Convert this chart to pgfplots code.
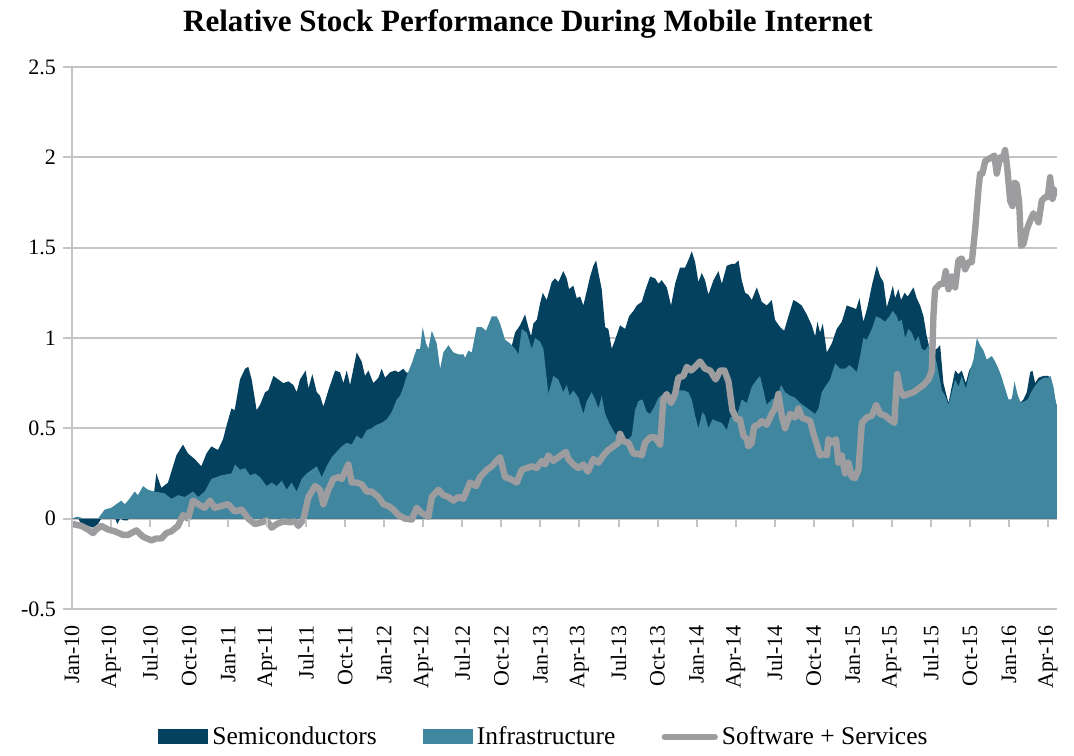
\documentclass[border=0pt]{standalone}
\usepackage{fontspec}
\setmainfont{Liberation Serif}
\usepackage{pgfplots}
\usepackage{pgfplotstable}
\pgfplotsset{compat=1.18}
\definecolor{semis}{HTML}{03415F}
\definecolor{infra}{HTML}{41869F}
\definecolor{soft}{HTML}{9D9D9F}
\definecolor{gridgray}{HTML}{C4C4C4}

% months since Jan-2010, relative performance
\pgfplotstableread{
m v
0 0
0.4 0.01
0.72 -0.03
1.23 -0.04
1.61 -0.05
2.0 -0.03
2.25 0.0
2.6 0.02
3.2 0.02
3.49 -0.03
3.7 0.0
4.0 -0.01
4.3 -0.01
4.6 0.05
5.0 0.08
5.5 0.10
6.0 0.12
6.3 0.14
6.48 0.25
6.87 0.17
7.38 0.20
8.02 0.35
8.53 0.41
8.92 0.36
9.43 0.33
9.94 0.29
10.33 0.36
10.71 0.40
11.22 0.38
11.61 0.44
11.86 0.51
12.25 0.61
12.5 0.60
12.91 0.77
13.30 0.83
13.55 0.84
13.81 0.77
14.19 0.60
14.45 0.63
14.84 0.70
15.09 0.71
15.48 0.79
15.86 0.77
16.24 0.75
16.63 0.76
17.01 0.74
17.27 0.70
17.52 0.77
17.96 0.82
18.17 0.72
18.47 0.80
18.81 0.70
19.06 0.68
19.32 0.62
19.70 0.71
20.22 0.82
20.6 0.81
20.86 0.75
21.11 0.82
21.37 0.74
21.88 0.92
22.26 0.87
22.52 0.79
22.78 0.82
23.16 0.75
23.55 0.78
23.80 0.83
24.06 0.78
24.44 0.81
24.83 0.82
25.08 0.81
25.47 0.83
25.67 0.81
26.5 0.80
28.0 0.82
29.5 0.80
31.0 0.85
32.5 0.88
33.6 0.90
34.05 1.03
34.43 1.07
34.82 1.13
35.07 1.06
35.28 1.01
35.46 1.08
35.72 1.10
35.97 1.19
36.18 1.25
36.48 1.21
36.87 1.31
37.12 1.33
37.38 1.31
37.76 1.37
38.02 1.33
38.2 1.27
38.53 1.29
38.79 1.22
39.05 1.23
39.30 1.18
39.56 1.26
39.82 1.34
40.07 1.40
40.28 1.43
40.46 1.36
40.71 1.27
40.97 1.06
41.22 1.05
41.48 0.94
41.74 0.99
42.12 1.07
42.51 1.05
42.81 1.12
43.15 1.15
43.40 1.18
43.79 1.20
44.04 1.26
44.43 1.34
44.81 1.33
45.07 1.30
45.32 1.32
45.71 1.28
46.04 1.18
46.35 1.30
46.73 1.39
47.12 1.39
47.42 1.44
47.63 1.48
47.89 1.42
48.14 1.31
48.40 1.36
48.65 1.32
48.91 1.24
49.30 1.32
49.68 1.37
49.94 1.30
50.32 1.40
50.70 1.41
50.96 1.41
51.22 1.43
51.47 1.32
51.73 1.25
51.98 1.24
52.24 1.21
52.63 1.28
53.01 1.20
53.39 1.18
53.78 1.21
54.03 1.10
54.42 1.06
54.73 1.04
55.06 1.12
55.44 1.21
55.70 1.20
56.08 1.18
56.47 1.13
56.85 1.07
57.11 1.01
57.29 1.09
57.49 1.03
57.70 1.08
58.01 0.92
58.39 0.97
58.77 1.05
59.16 1.09
59.54 1.18
59.93 1.17
60.26 1.16
60.52 1.22
60.82 1.09
61.13 1.17
61.47 1.29
61.85 1.40
62.11 1.34
62.36 1.31
62.62 1.17
62.87 1.23
63.08 1.29
63.26 1.22
63.51 1.27
63.72 1.21
63.98 1.25
64.23 1.23
64.41 1.25
64.67 1.28
64.92 1.22
65.18 1.18
65.44 1.12
65.69 1.01
65.95 0.93
66.21 0.93
66.46 0.94
66.72 0.96
66.97 0.75
67.36 0.64
67.61 0.73
67.87 0.82
68.13 0.80
68.38 0.82
68.69 0.75
68.95 0.82
69.28 0.86
69.6 0.90
70.5 0.82
71.5 0.70
72.0 0.62
72.48 0.72
72.87 0.64
73.12 0.66
73.38 0.70
73.64 0.81
73.81 0.82
74.02 0.75
74.28 0.78
74.66 0.79
75.04 0.79
75.30 0.75
75.56 0.66
75.68 0.62
}\semis

\pgfplotstableread{
m v
0 0
0.46 0.01
1.0 0.0
2.0 0.0
2.51 0.05
3.02 0.06
3.79 0.10
4.05 0.08
4.31 0.10
4.82 0.15
5.07 0.13
5.46 0.18
5.84 0.16
6.35 0.15
7.12 0.14
7.64 0.11
8.15 0.13
8.66 0.12
9.30 0.15
9.69 0.12
10.2 0.15
10.71 0.22
11.48 0.24
12.25 0.25
12.53 0.30
12.91 0.27
13.30 0.28
13.68 0.24
14.07 0.25
14.45 0.23
14.96 0.18
15.35 0.20
15.73 0.18
16.12 0.21
16.50 0.16
16.88 0.20
17.27 0.15
17.65 0.22
18.04 0.25
18.42 0.27
18.81 0.29
19.19 0.23
19.57 0.29
19.96 0.34
20.34 0.37
20.73 0.40
21.11 0.42
21.5 0.41
21.88 0.46
22.26 0.44
22.65 0.49
23.03 0.50
23.42 0.52
23.80 0.53
24.19 0.55
24.57 0.59
24.96 0.66
25.21 0.68
25.47 0.73
25.72 0.79
26.11 0.86
26.49 0.94
26.75 0.94
26.95 1.06
27.21 0.97
27.39 0.94
27.65 1.04
28.03 0.97
28.29 0.83
28.54 0.92
28.93 0.96
29.31 0.92
29.69 0.91
30.08 0.91
30.21 0.89
30.46 0.93
30.72 0.92
31.10 1.06
31.49 1.06
31.82 1.04
32.26 1.12
32.64 1.12
32.90 1.08
33.28 0.99
33.67 0.97
34.05 0.94
34.31 0.91
34.56 1.05
34.95 1.03
35.33 0.94
35.59 1.00
35.97 0.98
36.23 0.94
36.43 0.81
36.61 0.69
36.99 0.79
37.38 0.77
37.76 0.70
38.02 0.74
38.25 0.68
38.53 0.71
38.92 0.67
39.30 0.58
39.56 0.65
39.94 0.70
40.2 0.66
40.46 0.61
40.71 0.68
40.97 0.58
41.35 0.52
41.74 0.47
41.99 0.46
42.38 0.42
42.76 0.44
43.02 0.46
43.27 0.60
43.53 0.65
43.84 0.66
44.17 0.59
44.43 0.58
44.76 0.62
45.07 0.67
45.45 0.69
45.84 0.68
46.22 0.69
46.60 0.71
46.99 0.71
47.37 0.70
47.63 0.66
47.89 0.57
48.14 0.50
48.45 0.59
48.65 0.57
48.91 0.50
49.22 0.55
49.55 0.54
49.94 0.53
50.32 0.49
50.58 0.56
51.09 0.57
51.47 0.66
51.86 0.64
52.24 0.73
52.63 0.77
52.88 0.79
53.14 0.71
53.39 0.63
53.78 0.66
54.16 0.67
54.50 0.74
54.80 0.70
55.19 0.68
55.57 0.67
55.96 0.64
56.34 0.62
56.73 0.60
57.11 0.58
57.37 0.61
57.62 0.70
57.88 0.73
58.26 0.77
58.65 0.86
59.03 0.83
59.42 0.83
59.75 0.85
60.06 0.83
60.31 0.81
60.57 0.90
60.82 1.00
61.08 0.99
61.47 1.05
61.80 1.12
62.11 1.11
62.49 1.09
62.82 1.12
63.08 1.15
63.39 1.12
63.52 1.09
63.77 1.10
64.03 1.00
64.28 1.05
64.54 1.03
64.80 0.98
65.05 1.01
65.31 0.94
65.56 0.93
65.82 0.96
66.20 0.92
66.46 0.86
66.85 0.71
67.10 0.68
67.36 0.63
67.61 0.70
67.87 0.77
68.13 0.73
68.38 0.79
68.69 0.72
69.02 0.82
69.28 0.88
69.54 1.00
69.79 0.96
70.05 0.93
70.30 0.88
70.69 0.90
70.94 0.87
71.20 0.83
71.46 0.78
71.71 0.72
71.97 0.66
72.23 0.66
72.43 0.76
72.69 0.68
72.94 0.64
73.20 0.65
73.46 0.66
73.71 0.70
73.97 0.73
74.28 0.76
74.66 0.78
74.99 0.78
75.20 0.79
75.43 0.73
75.61 0.64
75.69 0.63
}\infra

\pgfplotstableread{
m v
0 -0.02
0.08 -0.03
0.72 -0.04
1.23 -0.06
1.61 -0.08
1.87 -0.06
2.25 -0.04
2.77 -0.06
3.28 -0.07
3.92 -0.09
4.31 -0.09
4.95 -0.065
5.46 -0.10
6.10 -0.12
6.48 -0.11
6.87 -0.11
7.25 -0.08
7.64 -0.07
8.15 -0.04
8.53 0.02
8.92 0.0
9.30 0.10
9.69 0.08
10.2 0.06
10.6 0.10
10.97 0.06
11.48 0.07
12.0 0.08
12.5 0.04
13.04 0.05
13.55 0.00
14.07 -0.03
14.58 -0.02
14.96 -0.01
15.35 -0.05
15.73 -0.03
16.24 -0.015
16.76 -0.02
17.14 -0.015
17.4 -0.04
17.78 -0.005
18.17 0.12
18.68 0.18
19.06 0.16
19.32 0.08
19.70 0.16
20.09 0.22
20.47 0.23
20.73 0.22
21.24 0.30
21.5 0.20
21.88 0.20
22.26 0.19
22.65 0.15
23.03 0.15
23.55 0.12
23.93 0.08
24.31 0.07
24.70 0.05
25.08 0.02
25.6 0.00
26.11 -0.005
26.49 0.06
26.88 0.03
27.39 0.01
27.65 0.12
28.16 0.16
28.54 0.13
28.93 0.12
29.31 0.10
29.69 0.12
30.08 0.11
30.59 0.20
31.05 0.18
31.36 0.23
31.87 0.27
32.26 0.29
32.51 0.31
32.90 0.34
33.28 0.23
33.67 0.22
34.18 0.20
34.56 0.27
34.95 0.28
35.33 0.29
35.72 0.28
36.10 0.32
36.36 0.30
36.61 0.35
36.99 0.32
37.38 0.34
37.76 0.36
37.95 0.37
38.15 0.33
38.53 0.30
38.92 0.28
39.30 0.30
39.64 0.26
40.07 0.33
40.46 0.31
40.84 0.35
41.22 0.38
41.61 0.40
41.99 0.42
42.12 0.47
42.38 0.43
42.76 0.42
43.15 0.36
43.48 0.36
43.79 0.35
44.04 0.42
44.43 0.45
44.81 0.45
45.2 0.41
45.45 0.66
45.71 0.69
46.04 0.64
46.35 0.69
46.60 0.78
46.99 0.79
47.25 0.84
47.58 0.82
47.89 0.84
48.27 0.87
48.65 0.83
49.04 0.82
49.47 0.77
49.81 0.82
50.14 0.82
50.45 0.76
50.75 0.60
51.09 0.55
51.34 0.55
51.60 0.46
51.86 0.44
51.98 0.40
52.24 0.42
52.42 0.51
52.75 0.52
53.01 0.54
53.39 0.52
53.78 0.58
54.03 0.61
54.29 0.69
54.55 0.57
54.80 0.50
55.19 0.58
55.57 0.56
55.83 0.61
56.08 0.56
56.42 0.55
56.73 0.54
56.98 0.47
57.29 0.40
57.49 0.35
57.75 0.36
58.01 0.35
58.13 0.44
58.39 0.42
58.72 0.44
58.90 0.31
59.16 0.35
59.41 0.25
59.67 0.31
59.93 0.23
60.18 0.225
60.44 0.27
60.70 0.53
61.08 0.56
61.47 0.57
61.80 0.63
62.11 0.58
62.49 0.57
62.82 0.55
63.20 0.53
63.42 0.80
63.64 0.71
63.90 0.68
64.28 0.69
64.67 0.70
65.05 0.72
65.44 0.74
65.82 0.77
66.08 0.82
66.20 1.12
66.33 1.27
66.72 1.30
66.97 1.30
67.15 1.37
67.36 1.27
67.61 1.34
67.87 1.28
68.13 1.43
68.38 1.44
68.64 1.38
68.90 1.42
69.15 1.42
69.41 1.60
69.66 1.82
69.79 1.91
69.97 1.91
70.18 1.98
70.43 1.99
70.69 2.00
70.89 2.01
71.07 1.91
71.33 2.00
71.51 1.99
71.71 2.04
71.89 1.93
72.10 1.76
72.28 1.73
72.43 1.86
72.61 1.85
72.79 1.75
72.94 1.51
73.12 1.52
73.38 1.60
73.64 1.65
73.89 1.69
74.07 1.67
74.28 1.64
74.53 1.76
74.79 1.78
74.99 1.78
75.17 1.89
75.35 1.77
75.56 1.82
75.68 1.83
}\soft

\begin{document}
\begin{tikzpicture}
\begin{axis}[
    width=492.5pt, height=271pt, scale only axis,
    xmin=0, xmax=75.7,
    ymin=-0.5, ymax=2.5,
    axis x line*=bottom,
    axis y line*=left,
    x axis line style={draw=none},
    y axis line style={gridgray, line width=1pt},
    tick align=outside,
    major tick length=4.5pt,
    xtick={0,3,...,75},
    xticklabels={Jan-10,Apr-10,Jul-10,Oct-10,Jan-11,Apr-11,Jul-11,Oct-11,Jan-12,Apr-12,Jul-12,Oct-12,Jan-13,Apr-13,Jul-13,Oct-13,Jan-14,Apr-14,Jul-14,Oct-14,Jan-15,Apr-15,Jul-15,Oct-15,Jan-16,Apr-16},
    xtick style={draw=none},
    xticklabel style={rotate=90, anchor=east, font=\fontsize{11}{12}\selectfont},
    ytick={-0.5,0,0.5,1,1.5,2,2.5},
    yticklabels={-0.5,0,0.5,1,1.5,2,2.5},
    ytick style={gridgray, line width=1pt},
    yticklabel style={font=\fontsize{11}{12}\selectfont},
    ymajorgrids,
    grid style={gridgray, line width=1pt},
    legend columns=3,
    legend style={at={(0.5,0)}, anchor=center, yshift=-64pt, xshift=-9.75pt,
        draw=none, fill=none, font=\fontsize{12.75}{14}\selectfont,
        /tikz/every even column/.append style={column sep=21pt}},
]
\addplot[fill=semis, draw=none,
    legend image code/.code={\fill[semis] (0pt,-3.75pt) rectangle (25pt,3.75pt);}]
    table[x=m, y=v] {\semis} \closedcycle;
\addlegendentry{Semiconductors}
\addplot[fill=infra, draw=none,
    legend image code/.code={\fill[infra] (0pt,-3.75pt) rectangle (25pt,3.75pt);}]
    table[x=m, y=v] {\infra} \closedcycle;
\addlegendentry{Infrastructure}
\addplot[soft, line width=3.2pt, line join=round,
    legend image code/.code={\draw[soft, line width=3.2pt, line cap=round] (0pt,0pt) -- (25pt,0pt);}]
    table[x=m, y=v] {\soft};
\addlegendentry{Software + Services}

% x tick marks hang from the zero line
\pgfplotsinvokeforeach{0,3,6,9,12,15,18,21,24,27,30,33,36,39,42,45,48,51,54,57,60,63,66,69,72,75}{
    \draw[gridgray, line width=1pt] (axis cs:#1,0) -- ([yshift=-4pt]axis cs:#1,0);
}
\end{axis}
\node[anchor=base, font=\bfseries\fontsize{15.5}{18}\selectfont]
    at ([shift={(228pt,17.5pt)}]current axis.north west)
    {Relative Stock Performance During Mobile Internet};
\path ([shift={(-36pt,-70pt)}]current axis.south west)
    rectangle ([shift={(8.5pt,33.5pt)}]current axis.north east);
\end{tikzpicture}
\end{document}
